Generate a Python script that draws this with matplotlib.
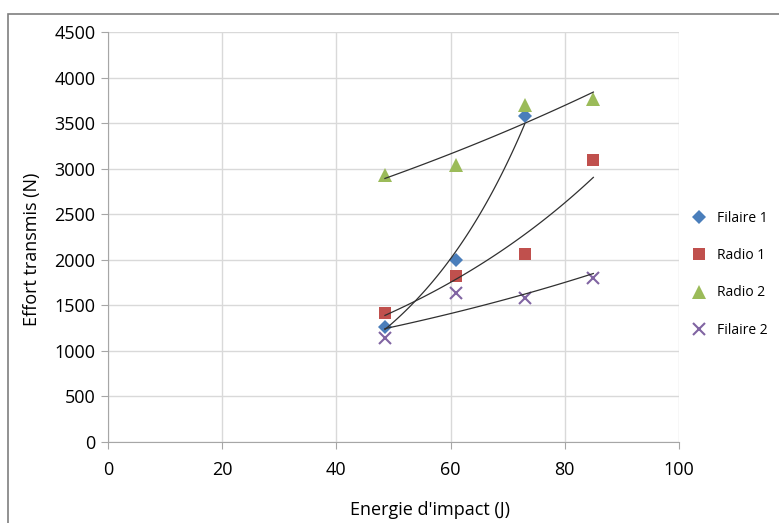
import numpy as np
import matplotlib
matplotlib.use('Agg')
import matplotlib.pyplot as plt
from matplotlib.patches import Rectangle

plt.rcParams['font.family'] = ['Open Sans', 'DejaVu Sans']

# data
x_f1 = [48.5, 61, 73]
y_f1 = [1265, 2000, 3580]
x_r1 = [48.5, 61, 73, 85]
y_r1 = [1420, 1820, 2060, 3090]
x_r2 = [48.5, 61, 73, 85]
y_r2 = [2930, 3040, 3700, 3760]
x_f2 = [48.5, 61, 73, 85]
y_f2 = [1145, 1640, 1580, 1795]

series = [
    ('Filaire 1', x_f1, y_f1, 'D', '#4a7ebb', 7),
    ('Radio 1', x_r1, y_r1, 's', '#c0504d', 9),
    ('Radio 2', x_r2, y_r2, '^', '#9bbb59', 10),
    ('Filaire 2', x_f2, y_f2, 'x', '#8064a2', 9),
]

fig = plt.figure(figsize=(7.79, 5.23), dpi=100)
ax = fig.add_axes([108 / 779, 1 - 442 / 523, (679 - 108) / 779, (442 - 32) / 523])

# frame around the chart
fig.patches.append(Rectangle((8 / 779, -0.01), 1.0, 1 - 14 / 523 + 0.01,
                             transform=fig.transFigure, fill=False,
                             edgecolor='#7f7f7f', linewidth=1.2))

handles = []
for name, xs, ys, mk, col, ms in series:
    if mk == 'x':
        h, = ax.plot(xs, ys, linestyle='none', marker=mk, color=col,
                     markersize=ms, markeredgewidth=1.5, label=name, zorder=3)
    else:
        h, = ax.plot(xs, ys, linestyle='none', marker=mk, color=col,
                     markersize=ms, markeredgewidth=0, label=name, zorder=3)
    handles.append(h)
    # exponential trend line, like Excel
    b, a = np.polyfit(xs, np.log(ys), 1)
    xx = np.linspace(min(xs), max(xs), 100)
    ax.plot(xx, np.exp(a + b * xx), color='#303030', linewidth=0.9, zorder=4)

ax.set_xlim(0, 100)
ax.set_ylim(0, 4500)
ax.set_xticks(np.arange(0, 101, 20))
ax.set_yticks(np.arange(0, 4501, 500))
ax.grid(True, color='#d9d9d9', linewidth=1)
ax.set_axisbelow(True)
for s in ['top', 'right']:
    ax.spines[s].set_visible(False)
for s in ['left', 'bottom']:
    ax.spines[s].set_color('#a6a6a6')
ax.tick_params(axis='both', colors='#a6a6a6', labelcolor='black',
               labelsize=13, length=5)
ax.tick_params(axis='x', pad=9)
ax.tick_params(axis='y', pad=4)

ax.set_xlabel("Energie d'impact (J)", fontsize=13)
ax.xaxis.set_label_coords(0.564, -0.145)
ax.set_ylabel('Effort transmis (N)', fontsize=13)
ax.yaxis.set_label_coords(-0.118, 0.47)

fig.legend(handles=handles, loc='upper left', bbox_to_anchor=(678 / 779, 1 - 198 / 523),
           frameon=False, fontsize=10, labelspacing=1.62, handletextpad=0.7,
           handlelength=1.2)

fig.savefig('out.png', dpi=100)
